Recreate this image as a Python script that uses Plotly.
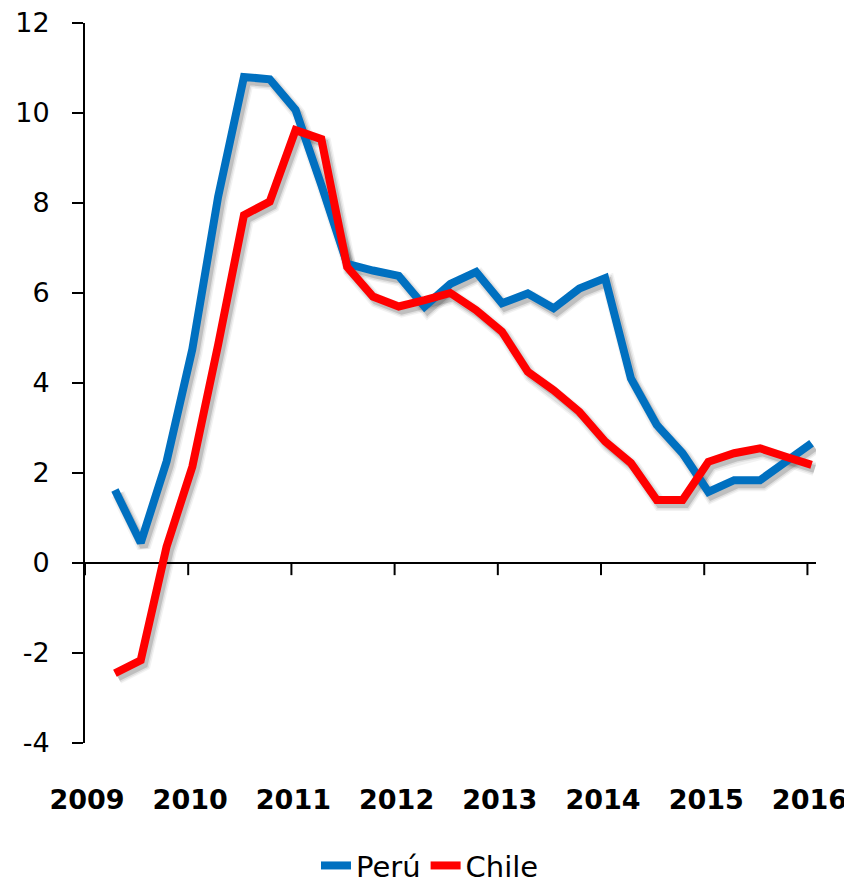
import plotly.graph_objects as go

# Quarterly data, 2009Q2 .. 2016Q1
years_q = [2009, 2009, 2009,
           2010, 2010, 2010, 2010,
           2011, 2011, 2011, 2011,
           2012, 2012, 2012, 2012,
           2013, 2013, 2013, 2013,
           2014, 2014, 2014, 2014,
           2015, 2015, 2015, 2015,
           2016]
quarters = [2, 3, 4] + [1, 2, 3, 4] * 6 + [1]

peru = [1.62, 0.45, 2.25, 4.75, 8.14, 10.8, 10.75, 10.07, 8.4, 6.65, 6.5, 6.38,
        5.7, 6.2, 6.47, 5.77, 5.99, 5.66, 6.1, 6.33, 4.1, 3.07, 2.44, 1.58,
        1.84, 1.84, 2.25, 2.66]
chile = [-2.45, -2.16, 0.36, 2.14, 4.85, 7.73, 8.03, 9.62, 9.42, 6.58, 5.92, 5.7,
         5.84, 6.0, 5.62, 5.14, 4.25, 3.84, 3.36, 2.7, 2.22, 1.4, 1.4, 2.25,
         2.44, 2.55, 2.36, 2.18]

year_ticks = [2009, 2010, 2011, 2012, 2013, 2014, 2015, 2016]
year_labels = ["2009", "2010", "2011", "2012", "2013", "2014", "2015", "2016"]
y_ticks = [-4, -2, 0, 2, 4, 6, 8, 10, 12]
y_labels = ["-4", "-2", "0", "2", "4", "6", "8", "10", "12"]

# position of each quarterly observation on a continuous year scale
x = [y + (q - 1) / 4 + 0.04 for y, q in zip(years_q, quarters)]

X_RANGE = [2009, 2016.083]
Y_RANGE = [-4, 12]
# drop-shadow offset (in axis units): ~3 px right, ~4 px down
SX, SY = 0.03, 0.09
x_shadow_range = [X_RANGE[0] - SX, X_RANGE[1] - SX]
y_shadow_range = [Y_RANGE[0] + SY, Y_RANGE[1] + SY]
TICK_LEN_Y = 0.27  # length of the year tick marks below the zero line, in y units

fig = go.Figure()

# soft grey shadows (drawn on a slightly offset copy of the axes)
for series in (peru, chile):
    for w, a in ((14, 0.05), (11, 0.08), (8, 0.14)):
        fig.add_trace(go.Scatter(x=x, y=series, mode="lines", showlegend=False,
                                 hoverinfo="skip", xaxis="x", yaxis="y",
                                 line=dict(color=f"rgba(0,0,0,{a})", width=w)))

fig.add_trace(go.Scatter(x=x, y=peru, mode="lines", name="Perú",
                         xaxis="x2", yaxis="y2",
                         line=dict(color="#0070C0", width=8)))
fig.add_trace(go.Scatter(x=x, y=chile, mode="lines", name="Chile",
                         xaxis="x2", yaxis="y2",
                         line=dict(color="#FF0000", width=8)))

# year tick marks hanging below the horizontal axis at zero
for yr in year_ticks:
    fig.add_shape(type="line", xref="x2", yref="y2", x0=yr, x1=yr,
                  y0=0, y1=-TICK_LEN_Y, layer="below",
                  line=dict(color="black", width=2))

fig.update_layout(
    width=844, height=876,
    margin=dict(l=77, r=36, t=15, b=141, autoexpand=False),
    paper_bgcolor="white", plot_bgcolor="white",
    font=dict(family="DejaVu Sans", color="black"),
    showlegend=True,
    legend=dict(orientation="h", xref="container", yref="container",
                x=0.5, xanchor="center", y=0.021, yanchor="middle",
                font=dict(size=29, family="DejaVu Sans"),
                itemwidth=30, tracegroupgap=0),
    xaxis=dict(range=x_shadow_range, visible=False, automargin=False),
    yaxis=dict(range=y_shadow_range, visible=False, automargin=False),
    xaxis2=dict(range=X_RANGE, overlaying="x", anchor="y2", side="bottom",
                tickvals=year_ticks, ticktext=year_labels,
                showline=False, ticks="", showgrid=False, zeroline=False,
                automargin=False, ticklabeloverflow="allow",
                tickfont=dict(size=27, family="DejaVu Sans", weight="bold"),
                ticklabelstandoff=38, ticklabelshift=2),
    yaxis2=dict(range=Y_RANGE, overlaying="y", anchor="x2", side="left",
                tickvals=y_ticks, ticktext=y_labels,
                showline=True, linecolor="black", linewidth=2, automargin=False,
                ticks="outside", ticklen=11, tickwidth=2, tickcolor="black",
                showgrid=False, zeroline=True, zerolinecolor="black",
                zerolinewidth=2, ticklabeloverflow="allow",
                tickfont=dict(size=27, family="DejaVu Sans"),
                ticklabelstandoff=17),
)

fig.write_html("out.html")
